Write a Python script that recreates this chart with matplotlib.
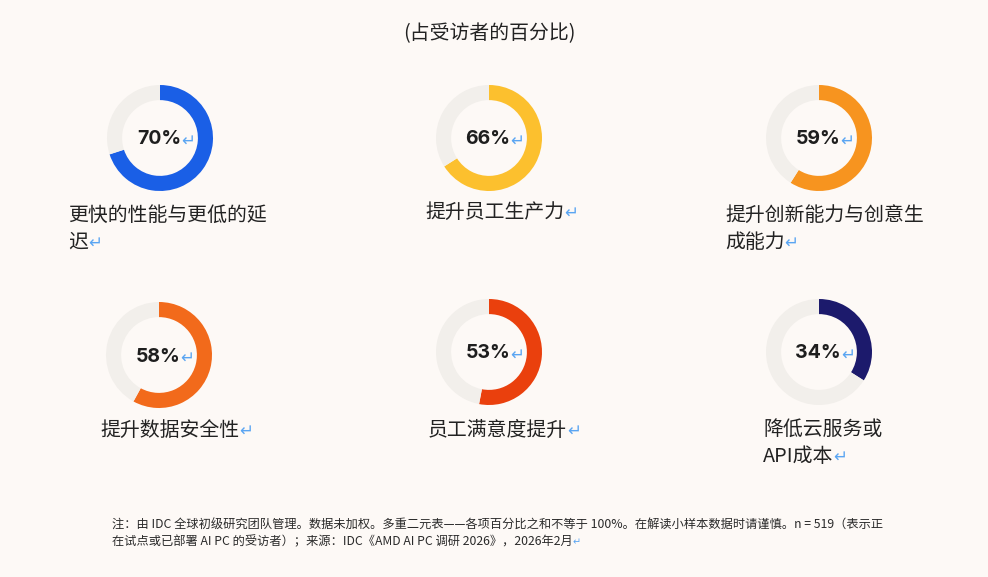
import matplotlib
matplotlib.use("Agg")
import matplotlib.pyplot as plt

plt.rcParams['font.family'] = ['Noto Sans CJK SC', 'DejaVu Sans']

# ---- data ----
title = "(占受访者的百分比)"
values = [70, 66, 59, 58, 53, 34]
labels = [
    ["更快的性能与更低的延", "迟"],
    ["提升员工生产力"],
    ["提升创新能力与创意生", "成能力"],
    ["提升数据安全性"],
    ["员工满意度提升"],
    ["降低云服务或", "API成本"],
]
colors = ["#1a5fe6", "#fcc02e", "#f7941f", "#f26a1b", "#ea400d", "#1c1a6c"]
note_lines = [
    "注：由 IDC 全球初级研究团队管理。数据未加权。多重二元表——各项百分比之和不等于 100%。在解读小样本数据时请谨慎。n = 519（表示正",
    "在试点或已部署 AI PC 的受访者）；来源：IDC《AMD AI PC 调研 2026》，2026年2月",
]

BG = "#fdf9f6"
TRACK = "#f2efeb"
MARK = "#5aa5f2"
W, H = 988, 577

fig = plt.figure(figsize=(W / 100, H / 100), dpi=100, facecolor=BG)

def fx(x):
    return x / W

def fy(y):
    return 1 - y / H

# layout (pixel positions)
centers = [(160, 138), (489, 138), (819, 138), (159, 355), (489, 352), (819, 352)]
label_pos = [(68, 215), (425, 212), (725, 215), (100, 430), (428, 430), (763, 429)]
line_gap = [27, 27, 27, 27, 27, 27]
R = 53

fig.text(fx(489), fy(34), title, ha="center", va="center", fontsize=14.3, color="#222222")

for i, v in enumerate(values):
    cx, cy = centers[i]
    ax = fig.add_axes([fx(cx - R), fy(cy + R), 2 * R / W, 2 * R / H])
    ax.set_facecolor("none")
    ax.pie([v, 100 - v], colors=[colors[i], TRACK], startangle=90, counterclock=False,
           radius=1, wedgeprops=dict(width=0.285, edgecolor="none", linewidth=0))
    ax.set_xlim(-1, 1)
    ax.set_ylim(-1, 1)
    ax.set_aspect("auto")
    ax.axis("off")

    t = fig.text(fx(cx - 1), fy(cy + 1.5), f"{v}%", ha="center", va="center", fontsize=14,
                 fontweight="bold", color="#1e1e1e", family=["Inter", "DejaVu Sans"])
    fig.add_artist(plt.Annotation("↵", xy=(1.0, 0.42), xycoords=t, ha="left", va="center",
                                  fontsize=12, color=MARK, family=["DejaVu Sans"]))

    lx, ly = label_pos[i]
    last = None
    for k, line in enumerate(labels[i]):
        last = fig.text(fx(lx), fy(ly + k * line_gap[i]), line, ha="left", va="center",
                        fontsize=14.3, color="#222222")
    fig.add_artist(plt.Annotation("↵", xy=(1.0, 0.45), xycoords=last, ha="left", va="center",
                                  fontsize=12, color=MARK, family=["DejaVu Sans"]))

n0 = fig.text(fx(112), fy(525), note_lines[0], ha="left", va="center", fontsize=8.8, color="#2a2a2a")
n1 = fig.text(fx(112), fy(542), note_lines[1], ha="left", va="center", fontsize=8.8, color="#2a2a2a")
fig.add_artist(plt.Annotation("↵", xy=(1.0, 0.45), xycoords=n1, ha="left", va="center",
                              fontsize=7, color=MARK, family=["DejaVu Sans"]))

fig.savefig("out.png", dpi=100, facecolor=BG)
